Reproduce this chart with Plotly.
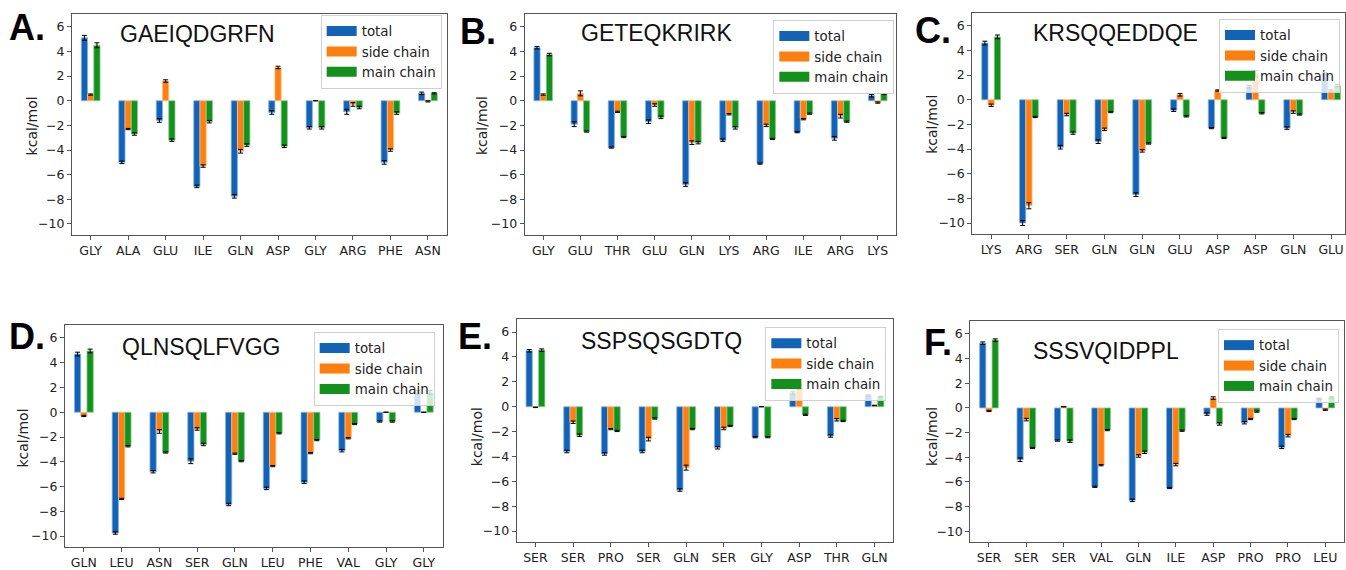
import plotly.graph_objects as go

W, H = 1346, 570

# ---------------- data ----------------
A_title = "GAEIQDGRFN"
A_res = ["GLY", "ALA", "GLU", "ILE", "GLN", "ASP", "GLY", "ARG", "PHE", "ASN"]
A_total = [5.1, -5.0, -1.6, -6.95, -7.75, -0.95, -2.2, -0.9, -5.0, 0.6]
A_side = [0.5, -2.3, 1.6, -5.3, -4.1, 2.7, 0.0, -0.3, -4.0, -0.05]
A_main = [4.5, -2.7, -3.2, -1.7, -3.6, -3.7, -2.2, -0.55, -1.0, 0.6]
A_err_total = [0.2, 0.1, 0.15, 0.1, 0.15, 0.15, 0.1, 0.2, 0.15, 0.1]
A_err_side = [0.05, 0.05, 0.1, 0.1, 0.15, 0.1, 0.0, 0.15, 0.1, 0.05]
A_err_main = [0.2, 0.1, 0.1, 0.1, 0.1, 0.1, 0.1, 0.1, 0.1, 0.05]

B_title = "GETEQKRIRK"
B_res = ["GLY", "GLU", "THR", "GLU", "GLN", "LYS", "ARG", "ILE", "ARG", "LYS"]
B_total = [4.3, -1.9, -3.8, -1.7, -6.8, -3.2, -5.1, -2.55, -3.05, 0.4]
B_side = [0.5, 0.6, -0.9, -0.35, -3.4, -1.1, -2.0, -1.5, -1.25, -0.15]
B_main = [3.75, -2.5, -2.95, -1.35, -3.4, -2.2, -3.1, -1.05, -1.7, 0.55]
B_err_total = [0.1, 0.2, 0.05, 0.15, 0.15, 0.1, 0.05, 0.05, 0.15, 0.1]
B_err_side = [0.05, 0.2, 0.05, 0.1, 0.15, 0.05, 0.1, 0.05, 0.15, 0.05]
B_err_main = [0.1, 0.05, 0.05, 0.1, 0.1, 0.1, 0.05, 0.05, 0.05, 0.05]

C_title = "KRSQQEDDQE"
C_res = ["LYS", "ARG", "SER", "GLN", "GLN", "GLU", "ASP", "ASP", "GLN", "GLU"]
C_total = [4.6, -10.0, -3.85, -3.4, -7.7, -0.85, -2.3, 1.05, -2.3, 2.1]
C_side = [-0.45, -8.6, -1.2, -2.4, -4.15, 0.4, 0.75, 2.1, -1.0, 0.75]
C_main = [5.1, -1.4, -2.7, -1.0, -3.55, -1.35, -3.1, -1.1, -1.2, 1.15]
C_err_total = [0.15, 0.2, 0.15, 0.15, 0.15, 0.1, 0.05, 0.1, 0.1, 0.1]
C_err_side = [0.1, 0.25, 0.1, 0.1, 0.1, 0.1, 0.05, 0.25, 0.1, 0.05]
C_err_main = [0.15, 0.05, 0.1, 0.05, 0.05, 0.05, 0.05, 0.05, 0.05, 0.1]

D_title = "QLNSQLFVGG"
D_res = ["GLN", "LEU", "ASN", "SER", "GLN", "LEU", "PHE", "VAL", "GLY", "GLY"]
D_total = [4.7, -9.75, -4.8, -3.95, -7.45, -6.15, -5.65, -3.1, -0.75, 1.6]
D_side = [-0.3, -7.0, -1.55, -1.35, -3.35, -4.35, -3.3, -2.1, 0.0, 0.0]
D_main = [4.95, -2.75, -3.25, -2.6, -3.95, -1.7, -2.25, -0.95, -0.75, 1.6]
D_err_total = [0.15, 0.1, 0.1, 0.2, 0.1, 0.1, 0.1, 0.1, 0.05, 0.15]
D_err_side = [0.05, 0.05, 0.15, 0.1, 0.05, 0.05, 0.05, 0.05, 0.0, 0.0]
D_err_main = [0.15, 0.05, 0.05, 0.1, 0.05, 0.05, 0.05, 0.05, 0.05, 0.15]

E_title = "SSPSQSGDTQ"
E_res = ["SER", "SER", "PRO", "SER", "GLN", "SER", "GLY", "ASP", "THR", "GLN"]
E_total = [4.5, -3.6, -3.8, -3.6, -6.7, -3.3, -2.45, 1.1, -2.35, 0.9]
E_side = [-0.05, -1.25, -1.8, -2.6, -4.9, -1.75, 0.0, 1.6, -1.05, 0.1]
E_main = [4.55, -2.3, -1.95, -0.95, -1.8, -1.55, -2.45, -0.65, -1.15, 0.8]
E_err_total = [0.1, 0.1, 0.1, 0.1, 0.1, 0.1, 0.05, 0.1, 0.1, 0.05]
E_err_side = [0.02, 0.1, 0.05, 0.15, 0.2, 0.1, 0.0, 0.2, 0.1, 0.02]
E_err_main = [0.1, 0.1, 0.05, 0.05, 0.05, 0.05, 0.05, 0.05, 0.05, 0.05]

F_title = "SSSVQIDPPL"
F_res = ["SER", "SER", "SER", "VAL", "GLN", "ILE", "ASP", "PRO", "PRO", "LEU"]
F_total = [5.25, -4.2, -2.65, -6.4, -7.5, -6.5, -0.5, -1.2, -3.2, 0.75]
F_side = [-0.25, -0.95, 0.1, -4.65, -3.9, -4.6, 0.8, -0.9, -2.25, -0.15]
F_main = [5.5, -3.25, -2.7, -1.8, -3.6, -1.85, -1.3, -0.3, -0.9, 0.85]
F_err_total = [0.1, 0.15, 0.05, 0.05, 0.1, 0.05, 0.1, 0.1, 0.1, 0.05]
F_err_side = [0.05, 0.1, 0.02, 0.05, 0.1, 0.1, 0.1, 0.05, 0.1, 0.05]
F_err_main = [0.1, 0.05, 0.1, 0.05, 0.1, 0.05, 0.1, 0.05, 0.05, 0.05]

series_names = ["total", "side chain", "main chain"]
y_ticks = [6, 4, 2, 0, -2, -4, -6, -8, -10]

# ---------------- styling ----------------
colors = ["#1263b6", "#fd7f0f", "#14901c"]
edge_colors = ["#8db3de", "#fdbf8a", "#8ccb8f"]
TICK_FONT = dict(family="DejaVu Sans", size=12.5, color="#222")
FRAME = "#555"

panels = [
    dict(letter="A.", title=A_title, res=A_res, vals=[A_total, A_side, A_main],
         errs=[A_err_total, A_err_side, A_err_main], frame=(72, 447, 14, 238),
         tpos=(198, 34), lpos=(27, 28), ypos=(32, 127), leg=(442, 15), xmax=9.5),
    dict(letter="B.", title=B_title, res=B_res, vals=[B_total, B_side, B_main],
         errs=[B_err_total, B_err_side, B_err_main], frame=(525, 897, 14, 238),
         tpos=(657, 33), lpos=(478, 32), ypos=(483, 127), leg=(895, 20), xmax=9.5),
    dict(letter="C.", title=C_title, res=C_res, vals=[C_total, C_side, C_main],
         errs=[C_err_total, C_err_side, C_err_main], frame=(973, 1346, 13, 237),
         tpos=(1116, 33), lpos=(934, 31), ypos=(933, 126), leg=(1341, 19), xmax=9.37),
    dict(letter="D.", title=D_title, res=D_res, vals=[D_total, D_side, D_main],
         errs=[D_err_total, D_err_side, D_err_main], frame=(65, 443, 329, 554),
         tpos=(201, 351), lpos=(27, 341), ypos=(23, 443), leg=(435, 336), xmax=9.5),
    dict(letter="E.", title=E_title, res=E_res, vals=[E_total, E_side, E_main],
         errs=[E_err_total, E_err_side, E_err_main], frame=(517, 894, 323, 549),
         tpos=(662, 345), lpos=(475, 341), ypos=(477, 442), leg=(887, 331), xmax=9.5),
    dict(letter="F.", title=F_title, res=F_res, vals=[F_total, F_side, F_main],
         errs=[F_err_total, F_err_side, F_err_main], frame=(971, 1345, 325, 549),
         tpos=(1107, 355), lpos=(939, 347), ypos=(932, 442), leg=(1340, 333), xmax=9.5),
]

fig = go.Figure()
layout = dict(
    width=W, height=H, margin=dict(l=0, r=0, t=0, b=0),
    paper_bgcolor="white", plot_bgcolor="white",
    barmode="group", bargap=0.5, bargroupgap=0.0,
    showlegend=True, annotations=[],
)

def px_x(v):
    return v / W

def px_y(v):
    return 1 - v / H

for i, p in enumerate(panels):
    n = i + 1
    xa = "x" if n == 1 else f"x{n}"
    ya = "y" if n == 1 else f"y{n}"
    leg = "legend" if n == 1 else f"legend{n}"
    cats = list(range(len(p["res"])))
    for s in range(3):
        fig.add_trace(go.Bar(
            x=cats, y=p["vals"][s], name=series_names[s],
            marker=dict(color=colors[s], line=dict(color=edge_colors[s], width=0.8)),
            error_y=dict(type="data", array=p["errs"][s], color="black",
                         thickness=1, width=2.5),
            xaxis=xa, yaxis=ya, showlegend=False, offsetgroup=str(s),
        ))
    for s in range(3):
        fig.add_trace(go.Scatter(
            x=[None], y=[None], mode="lines", name=series_names[s],
            line=dict(color=colors[s], width=10),
            xaxis=xa, yaxis=ya, legend=leg, showlegend=True, hoverinfo="skip",
        ))
    x0, x1, y0, y1 = p["frame"]
    axkey_x = "xaxis" if n == 1 else f"xaxis{n}"
    axkey_y = "yaxis" if n == 1 else f"yaxis{n}"
    layout[axkey_x] = dict(
        domain=[px_x(x0), px_x(x1)], anchor=ya, range=[-0.5, p["xmax"]],
        tickmode="array", tickvals=cats, ticktext=p["res"],
        showline=True, mirror=True, linecolor=FRAME, linewidth=1,
        ticks="outside", ticklen=4, tickcolor=FRAME, tickfont=TICK_FONT,
        showgrid=False, zeroline=False, fixedrange=True,
    )
    layout[axkey_y] = dict(
        domain=[px_y(y1), px_y(y0)], anchor=xa, range=[-10.9, 7.05],
        tickmode="array", tickvals=y_ticks,
        showline=True, mirror=True, linecolor=FRAME, linewidth=1,
        ticks="outside", ticklen=4, tickcolor=FRAME, tickfont=TICK_FONT,
        showgrid=False, zeroline=False, fixedrange=True,
    )
    lr, lt = p["leg"]
    layout[leg] = dict(
        x=px_x(lr), y=px_y(lt), xanchor="right", yanchor="top",
        xref="paper", yref="paper",
        bgcolor="rgba(255,255,255,0.8)", bordercolor="#d0d0d0", borderwidth=1,
        font=dict(family="DejaVu Sans", size=13.4, color="#222"),
        itemwidth=30, tracegroupgap=0,
    )
    layout["annotations"].append(dict(
        text=p["title"], x=px_x(p["tpos"][0]), y=px_y(p["tpos"][1]),
        xref="paper", yref="paper", xanchor="center", yanchor="middle",
        showarrow=False, font=dict(family="Liberation Sans, Arial", size=23, color="#111"),
    ))
    layout["annotations"].append(dict(
        text="<b>" + p["letter"] + "</b>", x=px_x(p["lpos"][0]), y=px_y(p["lpos"][1]),
        xref="paper", yref="paper", xanchor="center", yanchor="middle",
        showarrow=False, font=dict(family="Liberation Sans, Arial", size=36, color="#000"),
    ))
    layout["annotations"].append(dict(
        text="kcal/mol", x=px_x(p["ypos"][0]), y=px_y(p["ypos"][1]),
        xref="paper", yref="paper", xanchor="center", yanchor="middle",
        textangle=-90, showarrow=False,
        font=dict(family="DejaVu Sans", size=14, color="#222"),
    ))

fig.update_layout(**layout)
fig.write_html(
    "out.html",
    config={"displayModeBar": False},
    post_script="document.body.style.margin='0px';document.body.style.overflow='hidden';",
)
